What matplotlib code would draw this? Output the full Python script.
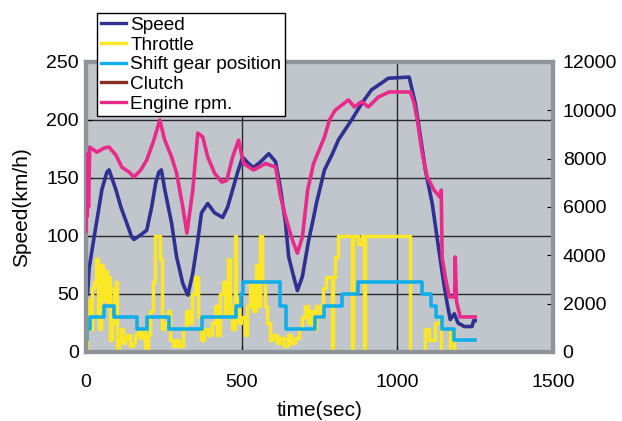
import matplotlib
matplotlib.use("Agg")
import matplotlib.pyplot as plt

plt.rcParams["font.family"] = ["Liberation Sans", "DejaVu Sans"]

# speed (km/h), left axis
speed_t = [5, 10, 26, 42, 51, 67, 74, 96, 112, 131, 147, 154, 176, 195, 211, 224, 234, 242,
           253, 275, 291, 311, 327, 343, 359, 371, 391, 413, 439, 455, 471, 487, 503, 520,
           538, 561, 587, 609, 625, 641, 651, 667, 679, 695, 715, 731, 740, 766, 790, 811,
           853, 885, 917, 950, 971, 1038, 1058, 1074, 1090, 1112, 1135, 1151, 1160, 1170,
           1183, 1195, 1215, 1240, 1245, 1250]
speed_v = [50, 72, 99, 125, 140, 155, 157, 140, 125, 111, 99, 97, 101, 105, 125, 146, 155, 157,
           140, 111, 82, 59, 49, 68, 96, 120, 128, 120, 116, 125, 140, 155, 168, 163,
           159, 164, 171, 164, 140, 111, 82, 65, 53, 65, 96, 116, 128, 157, 170, 183,
           200, 214, 226, 232, 236, 237, 214, 186, 157, 128, 85, 56, 42, 28,
           33, 25, 22, 22, 27, 27]

# throttle (%), left axis, step data
thr_t = [0, 2, 6, 12, 18, 26, 32, 38, 42, 47, 55, 60, 66, 70, 78, 83, 90, 96, 100, 106, 112,
         118, 125, 132, 140, 150, 158, 166, 175, 184, 190, 200, 207, 214, 222, 230, 238, 244,
         252, 262, 270, 278, 290, 300, 312, 322, 332, 342, 350, 360, 368, 378, 392, 404, 414,
         422, 432, 440, 448, 456, 463, 470, 478, 482, 490, 498, 510, 518, 528, 536, 545, 552,
         560, 566, 574, 582, 590, 600, 612, 622, 636, 648, 660, 672, 684, 694, 704, 712, 720,
         730, 740, 750, 760, 772, 790, 794, 800, 810, 855, 858, 875, 885, 892, 895, 1042,
         1088, 1102, 1120, 1136, 1140, 1170, 1183, 1250]
thr_v = [0, 30, 45, 20, 55, 60, 80, 30, 20, 75, 45, 70, 40, 65, 10, 25, 55, 60, 0, 10, 20,
         8, 12, 15, 5, 8, 15, 20, 12, 18, 3, 15, 35, 60, 100, 100, 80, 20,
         25, 35, 10, 5, 10, 5, 20, 35, 25, 50, 65, 30, 10, 20, 15, 25, 40,
         15, 50, 60, 30, 80, 40, 20, 100, 45, 25, 30, 15, 40, 60, 35, 75, 40,
         100, 60, 40, 25, 10, 15, 8, 12, 5, 15, 8, 12, 20, 30, 40, 25, 35,
         20, 40, 30, 55, 65, 0, 65, 82, 100, 0, 100, 93, 100, 0, 100, 0,
         20, 10, 25, 30, 0, 18, 0, 0]

# shift gear position (x10), left axis, step data
gear_t = [0, 4, 12, 58, 90, 163, 195, 266, 372, 481, 498, 504, 622, 641, 734, 766, 821, 875,
          1080, 1108, 1125, 1144, 1182, 1250]
gear_v = [10, 20, 30, 40, 30, 20, 30, 20, 30, 40, 50, 60, 40, 20, 30, 40, 50, 60,
          50, 40, 30, 20, 10, 10]

# clutch
clutch_t = [0, 1260]
clutch_v = [0, 0]

# engine rpm, right axis
rpm_t = [0, 2, 4, 6, 8, 12, 35, 58, 74, 96, 115, 138, 154, 176, 195, 218, 237, 253, 275, 291,
         311, 324, 343, 359, 375, 391, 413, 436, 452, 471, 490, 506, 538, 577, 609, 625, 641,
         663, 679, 695, 712, 731, 766, 782, 800, 830, 843, 862, 885, 907, 939, 974, 1042,
         1054, 1064, 1080, 1096, 1118, 1138, 1141, 1144, 1154, 1167, 1184, 1186, 1190, 1202,
         1250]
rpm_v = [5000, 8000, 5600, 8200, 6000, 8480, 8270, 8440, 8480, 8150, 7650, 7450, 7240, 7530,
         7940, 8770, 9600, 8770, 8070, 7400, 6000, 4920, 6700, 9060, 8900, 8070, 7400, 7030,
         7100, 8070, 8770, 7800, 7530, 7800, 7650, 6430, 5590, 4630, 4090, 4760, 6700, 7800,
         8900, 9600, 10000, 10300, 10430, 10140, 10360, 10140, 10550, 10760, 10760, 10300,
         9600, 8230, 7240, 6700, 6400, 6700, 3900, 3100, 2280, 2280, 3930, 2100, 1450, 1450]

fig = plt.figure(figsize=(6.22, 4.21), dpi=100)
ax = fig.add_axes([86 / 622, 1 - 352 / 421, 467 / 622, 290 / 421])
ax.set_facecolor("#c1c5cc")

l_thr, = ax.plot(thr_t, thr_v, drawstyle="steps-post", color="#fbe726", lw=2.5,
                 label="Throttle", zorder=2)
l_gear, = ax.plot(gear_t, gear_v, drawstyle="steps-post", color="#12aeea", lw=2.6,
                  label="Shift gear position", zorder=3)
l_spd, = ax.plot(speed_t, speed_v, color="#2e3192", lw=2.6, label="Speed", zorder=4)
l_clu, = ax.plot(clutch_t, clutch_v, color="#8b2e24", lw=2.4, label="Clutch", zorder=5)

ax.set_xlim(0, 1500)
ax.set_ylim(0, 250)
ax.set_xticks([0, 500, 1000, 1500])
ax.set_yticks([0, 50, 100, 150, 200, 250])
ax.grid(True, color="#2a2a2a", lw=1)
ax.set_axisbelow(True)
ax.tick_params(direction="in", length=4, labelsize=14)
ax.tick_params(axis="y", pad=5)
ax.tick_params(axis="x", pad=16)
ax.set_xlabel("time(sec)", fontsize=15, labelpad=7)
ax.set_ylabel("Speed(km/h)", fontsize=15, labelpad=11)

ax2 = ax.twinx()
l_rpm, = ax2.plot(rpm_t, rpm_v, color="#ea2a8b", lw=2.6, label="Engine rpm.", zorder=4)
ax2.set_ylim(0, 12000)
ax2.set_yticks(range(0, 12001, 2000))
ax2.tick_params(direction="in", length=4, labelsize=14, pad=7)

for a in (ax, ax2):
    for s in a.spines.values():
        s.set_color("#8f949a")
        s.set_linewidth(3)

leg = fig.legend(handles=[l_spd, l_thr, l_gear, l_clu, l_rpm], loc="upper left",
                 bbox_to_anchor=(97 / 622, 1 - 13 / 421), fontsize=13.7, frameon=True,
                 fancybox=False, edgecolor="black", framealpha=1, borderpad=0.2,
                 labelspacing=0.12, handlelength=1.3, handletextpad=0.25, borderaxespad=0)
for h in leg.get_lines():
    h.set_linewidth(2.4)

fig.savefig("out.png", dpi=100)
